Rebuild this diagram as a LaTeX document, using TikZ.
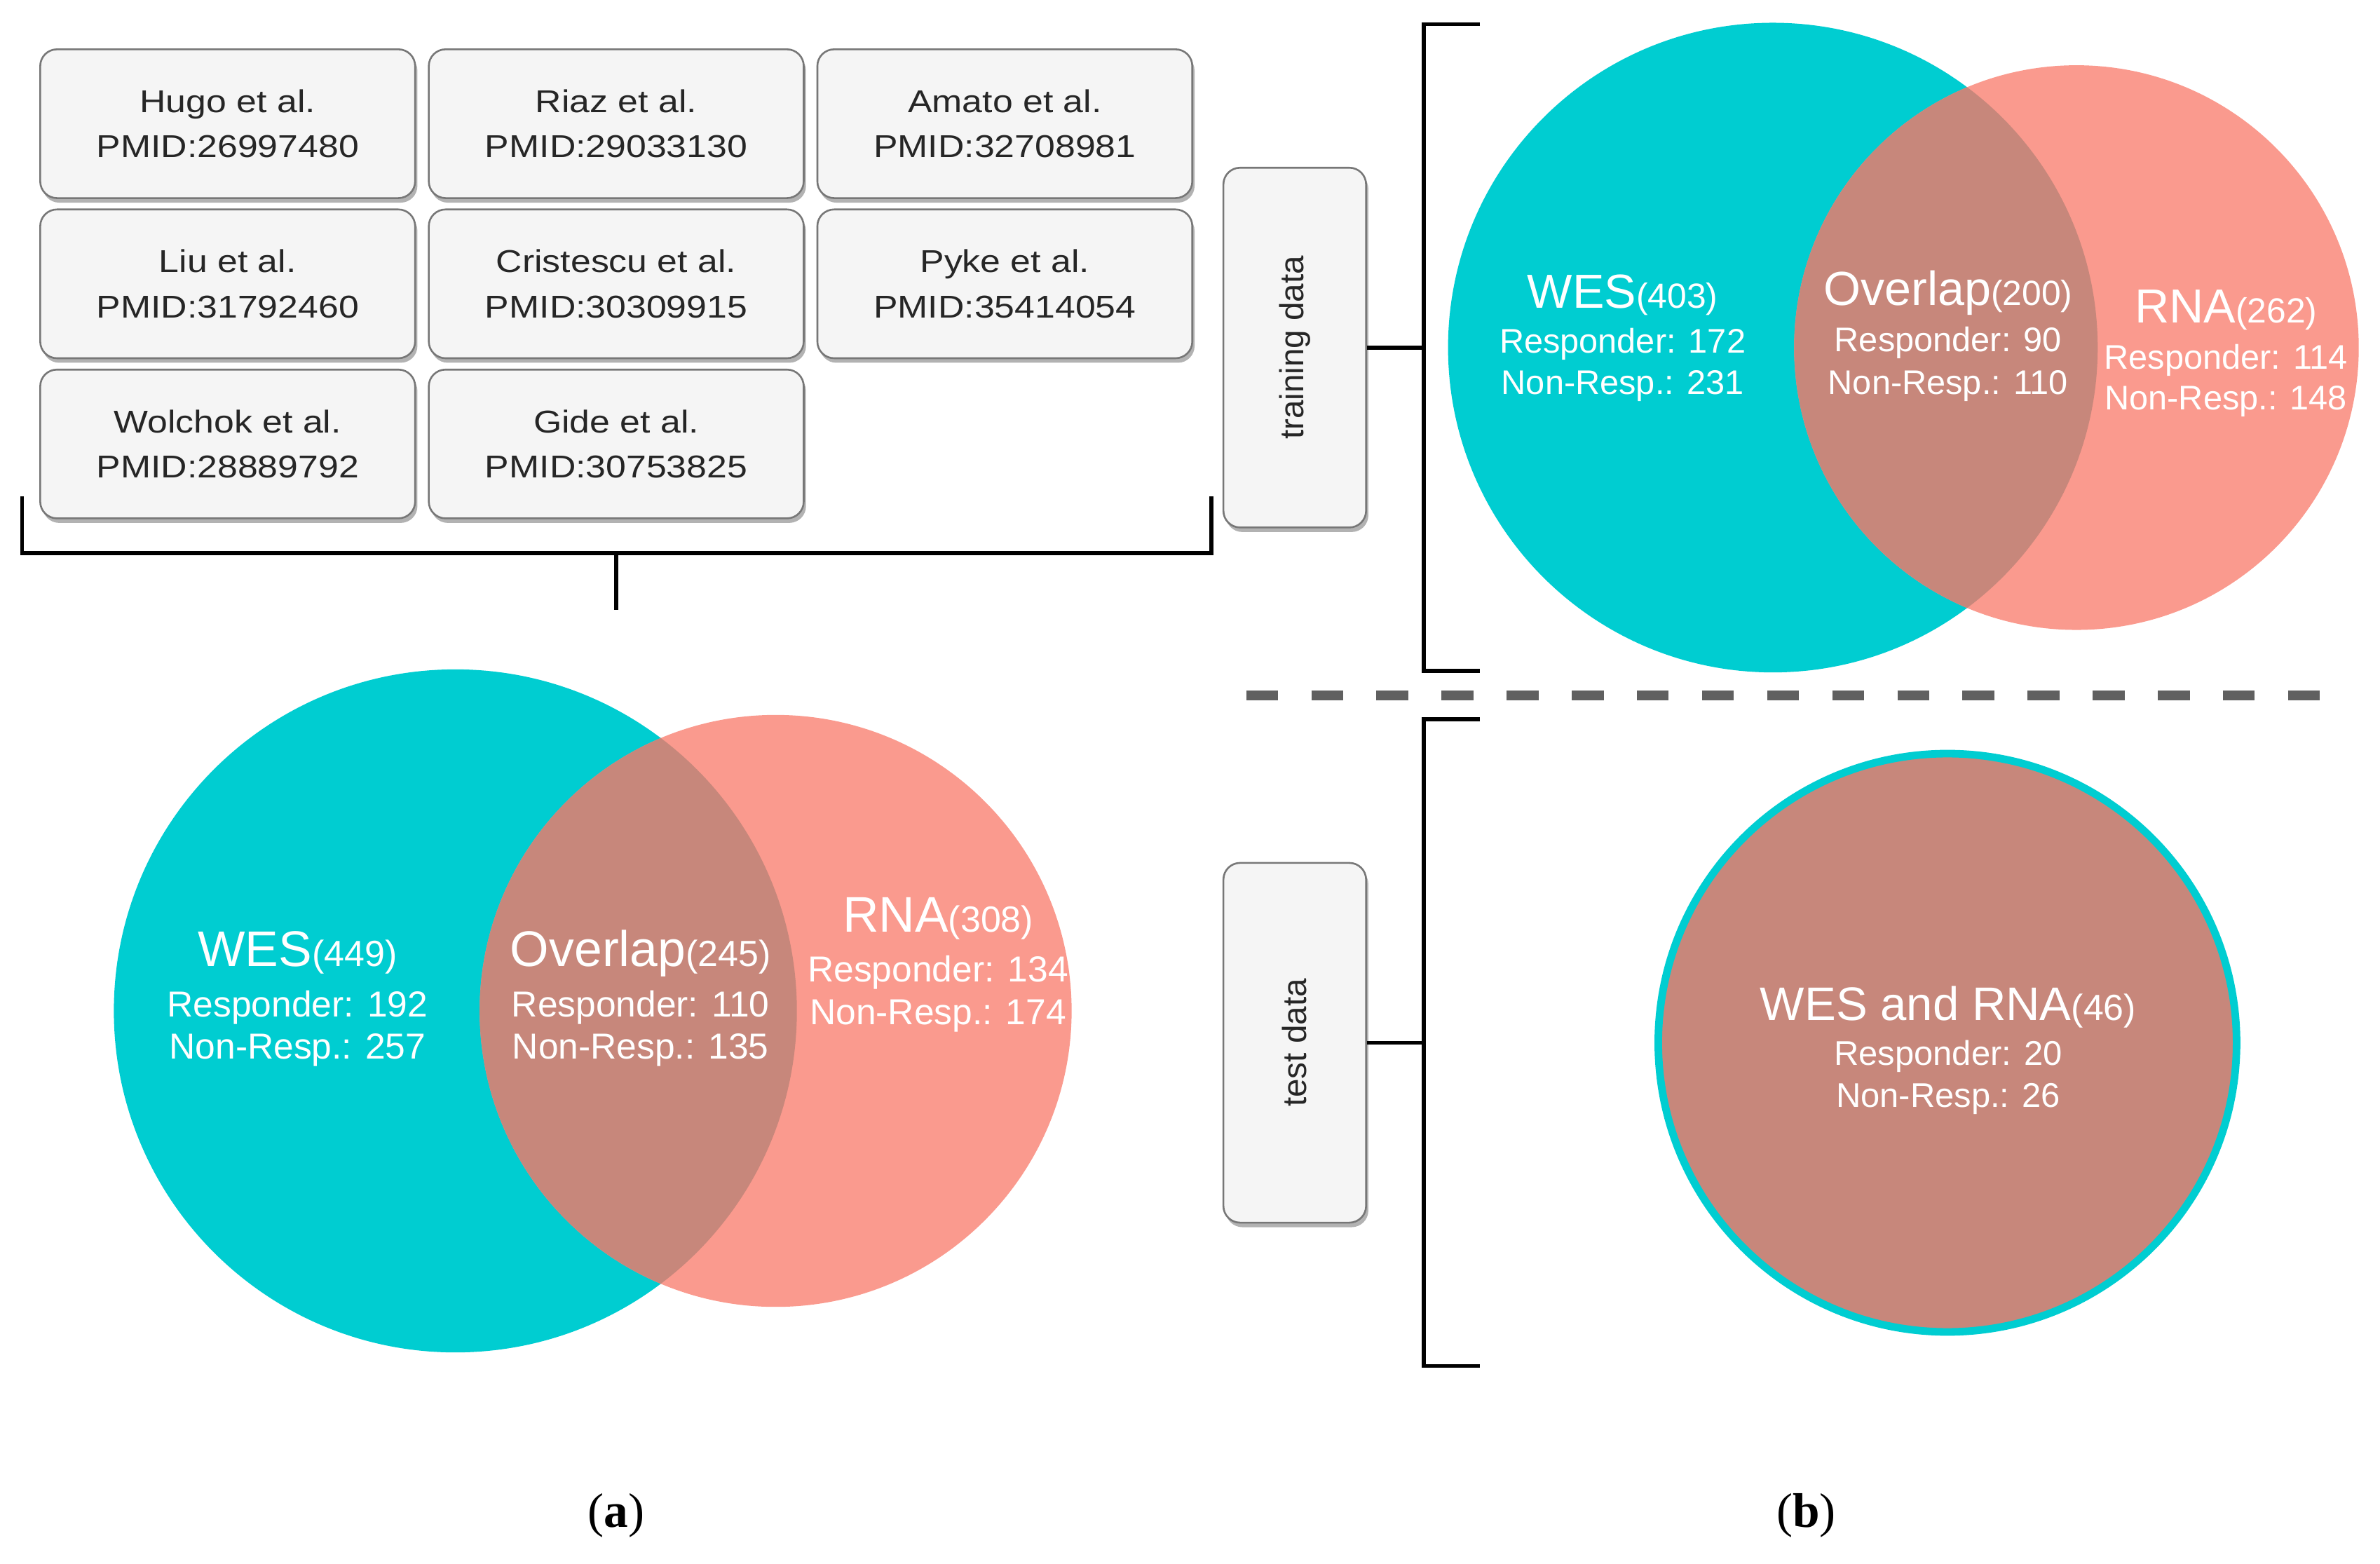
\documentclass[tikz,border=0pt]{standalone}
\usepackage{fontspec}
\setmainfont{Liberation Sans}
\newfontfamily\capfont{Liberation Serif}
\newfontfamily\boxfont[FakeStretch=1.15]{Liberation Sans}
\usetikzlibrary{shadows}
\definecolor{vteal}{HTML}{00CDD1}
\definecolor{vsalmon}{HTML}{FA9A8E}
\definecolor{vover}{HTML}{C7877B}
\definecolor{boxfill}{HTML}{F5F5F5}
\definecolor{boxline}{HTML}{777777}
\definecolor{dashgray}{HTML}{606060}
\newcommand\parA[1]{{\fontsize{24}{24}\selectfont(#1)}}
\newcommand\parB[1]{{\fontsize{23}{23}\selectfont(#1)}}
\tikzset{
  refbox/.style={draw=boxline, line width=1.2pt, fill=boxfill, rounded corners=11pt,
    minimum width=247pt, minimum height=98pt, align=center, inner sep=0pt,
    font=\boxfont\fontsize{20.8}{29.7}\selectfont, text=black!85,
    drop shadow={shadow xshift=1.5pt, shadow yshift=-3pt, opacity=0.3, fill=black}},
  sidebox/.style={draw=boxline, line width=1.2pt, fill=boxfill, rounded corners=11pt,
    minimum width=94pt, minimum height=237pt, inner sep=0pt,
    drop shadow={shadow xshift=1.5pt, shadow yshift=-3pt, opacity=0.3, fill=black}},
  sidetext/.style={rotate=90, font=\fontsize{22}{22}\selectfont, text=black!85, inner sep=0pt},
  bigA/.style={anchor=base, text=white, inner sep=0pt, font=\fontsize{33}{33}\selectfont},
  smA/.style={anchor=base, text=white, inner sep=0pt, font=\fontsize{23.8}{24}\selectfont},
  bigB/.style={anchor=base, text=white, inner sep=0pt, font=\fontsize{31.5}{32}\selectfont},
  smB/.style={anchor=base, text=white, inner sep=0pt, font=\fontsize{22.5}{23}\selectfont},
  brk/.style={line width=2.6pt, black},
  caplabel/.style={anchor=base, inner sep=0pt, font=\capfont\fontsize{32}{32}\selectfont},
}
\begin{document}
\begin{tikzpicture}[x=1pt,y=-1pt]
\useasboundingbox (0,0) rectangle (1568,1030);

% ---------- reference boxes ----------
\node[refbox] (hugo) at (150,81.5) {Hugo et al.\\PMID:26997480};
\node[refbox] (riaz) at (406,81.5) {Riaz et al.\\PMID:29033130};
\node[refbox] (amato) at (662,81.5) {Amato et al.\\PMID:32708981};
\node[refbox] (liu) at (150,187) {Liu et al.\\PMID:31792460};
\node[refbox] (cris) at (406,187) {Cristescu et al.\\PMID:30309915};
\node[refbox] (pyke) at (662,187) {Pyke et al.\\PMID:35414054};
\node[refbox] (wol) at (150,292.5) {Wolchok et al.\\PMID:28889792};
\node[refbox] (gide) at (406,292.5) {Gide et al.\\PMID:30753825};

% ---------- left bracket ----------
\coordinate (lb1) at (14.5,327);
\coordinate (lb2) at (14.5,364.5);
\coordinate (lb3) at (798,364.5);
\coordinate (lb4) at (798,327);
\coordinate (lbm) at (406,364.5);
\coordinate (lbt) at (406,402);
\draw[brk] (lb1) -- (lb2) -- (lb3) -- (lb4);
\draw[brk] (lbm) -- (lbt);

% ---------- left Venn ----------
\fill[vteal] (300,666) circle[radius=225];
\fill[vsalmon] (511,666) circle[radius=195];
\begin{scope}
  \clip (300,666) circle[radius=225];
  \fill[vover] (511,666) circle[radius=195];
\end{scope}
\node[bigA] (wesA1) at (196,636.5) {WES\parA{449}};
\node[smA] (wesA2) at (196,669.7) {Responder: 192};
\node[smA] (wesA3) at (196,697.4) {Non-Resp.: 257};
\node[bigA] (ovA1) at (422,636.5) {Overlap\parA{245}};
\node[smA] (ovA2) at (422,669.7) {Responder: 110};
\node[smA] (ovA3) at (422,697.4) {Non-Resp.: 135};
\node[bigA] (rnaA1) at (618,614) {RNA\parA{308}};
\node[smA] (rnaA2) at (618,647) {Responder: 134};
\node[smA] (rnaA3) at (618,675) {Non-Resp.: 174};

% ---------- side boxes ----------
\node[sidebox] (train) at (853,229) {};
\node[sidetext] (traint) at (train.center) {training data};
\node[sidebox] (test) at (853,687) {};
\node[sidetext] (testt) at (test.center) {test data};

% ---------- right brackets ----------
\coordinate (tb1) at (975,16);
\coordinate (tb2) at (938,16);
\coordinate (tb3) at (938,442);
\coordinate (tb4) at (975,442);
\coordinate (tbm) at (938,229);
\draw[brk] (tb1) -- (tb2) -- (tb3) -- (tb4);
\draw[brk] (train.east) -- (tbm);
\coordinate (sb1) at (975,474);
\coordinate (sb2) at (938,474);
\coordinate (sb3) at (938,900);
\coordinate (sb4) at (975,900);
\coordinate (sbm) at (938,687);
\draw[brk] (sb1) -- (sb2) -- (sb3) -- (sb4);
\draw[brk] (test.east) -- (sbm);

% ---------- top-right Venn ----------
\fill[vteal] (1168,229) circle[radius=214];
\fill[vsalmon] (1368,229) circle[radius=186];
\begin{scope}
  \clip (1168,229) circle[radius=214];
  \fill[vover] (1368,229) circle[radius=186];
\end{scope}
\node[bigB] (wesB1) at (1069,203) {WES\parB{403}};
\node[smB] (wesB2) at (1069,232.5) {Responder: 172};
\node[smB] (wesB3) at (1069,260) {Non-Resp.: 231};
\node[bigB] (ovB1) at (1283.4,201) {Overlap\parB{200}};
\node[smB] (ovB2) at (1283.4,231.7) {Responder: 90};
\node[smB] (ovB3) at (1283.4,260) {Non-Resp.: 110};
\node[bigB] (rnaB1) at (1466.5,212.5) {RNA\parB{262}};
\node[smB] (rnaB2) at (1466.5,243.2) {Responder: 114};
\node[smB] (rnaB3) at (1466.5,270) {Non-Resp.: 148};

% ---------- dashed separator ----------
\coordinate (d1) at (821,458);
\coordinate (d2) at (1530,458);
\draw[dashgray, line width=6.6pt, dash pattern=on 21pt off 21.9pt] (d1) -- (d2);

% ---------- test circle ----------
\draw[vteal, fill=vover, line width=5pt] (1283,687) circle[radius=190.5];
\node[bigB, font=\fontsize{31}{31}\selectfont] (tc1) at (1283.5,672) {WES and RNA{\fontsize{24}{24}\selectfont(46)}};
\node[smB, font=\fontsize{22.6}{23}\selectfont] (tc2) at (1283.5,702) {Responder: 20};
\node[smB, font=\fontsize{22.6}{23}\selectfont] (tc3) at (1283.5,729.7) {Non-Resp.: 26};

% ---------- captions ----------
\node[caplabel] (capa) at (406,1006) {(\textbf{a})};
\node[caplabel] (capb) at (1190,1006) {(\textbf{b})};
\end{tikzpicture}
\end{document}
